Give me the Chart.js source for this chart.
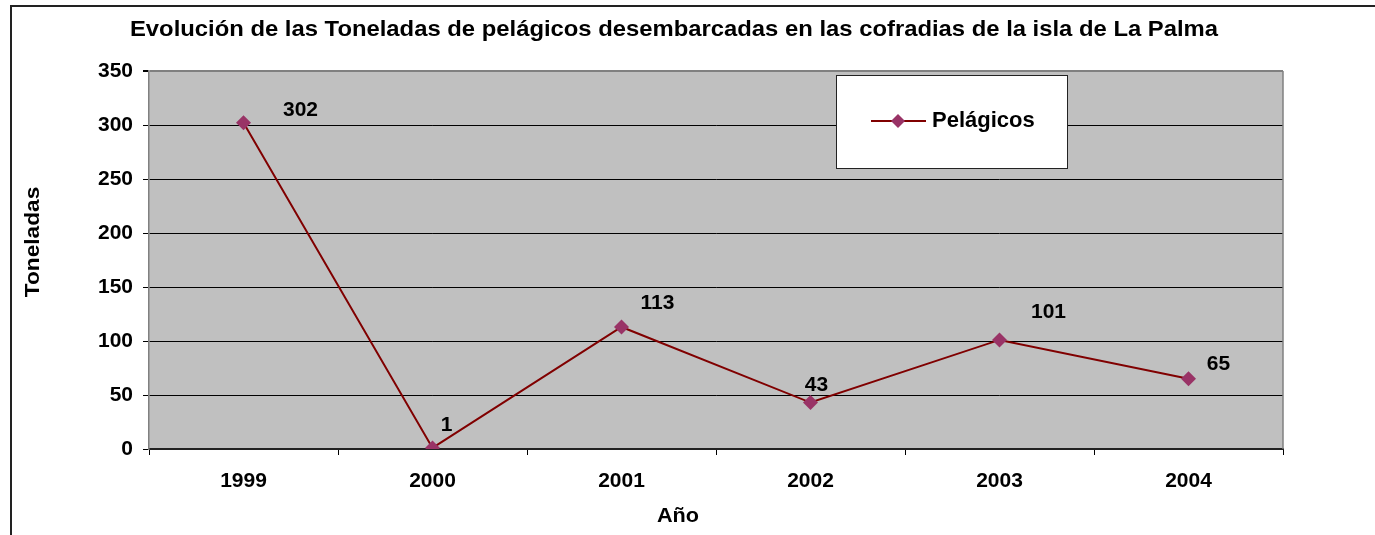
<!DOCTYPE html>
<html lang="es">
<head>
  <title>Pelágicos La Palma</title>
  <meta charset="utf-8">
  <script src="https://cdn.jsdelivr.net/npm/chart.js@4.4.1/dist/chart.umd.min.js"></script>
  <style>
    html, body {margin: 0; padding: 0; background: #fff;}
    #wrap {width: 1375px; height: 535px; position: relative;}
  </style>
</head>
<body>
<div id="wrap">
  <canvas id="chart" width="1375" height="535"></canvas>
</div>

<script>
  // datos
  const years = ["1999", "2000", "2001", "2002", "2003", "2004"]
  const toneladas = [302, 1, 113, 43, 101, 65]
  const yTicks = [0, 50, 100, 150, 200, 250, 300, 350]

  const chartTitle = "Evolución de las Toneladas de pelágicos desembarcadas en las cofradias de la isla de La Palma"
  const seriesName = "Pelágicos"

  const FONT = "'Liberation Sans', Arial, sans-serif"

  // posicion manual de las etiquetas (como en la hoja original)
  const labelOffsets = [[57, -13], [14, -23], [36, -24], [6, -17], [49, -28], [30, -15]]

  function boldText(ctx, txt, x, y, size, align, sx) {
    ctx.save()
    ctx.font = "bold " + size + "px " + FONT
    ctx.fillStyle = "#000"
    ctx.textAlign = align
    ctx.textBaseline = "middle"
    ctx.translate(x, y)
    ctx.scale(sx || 1, 1)
    ctx.fillText(txt, 0, 0)
    ctx.restore()
  }

  const decorPlugin = {
    id: "decor",
    beforeDraw(chart) {
      const ctx = chart.ctx
      const a = chart.chartArea
      ctx.save()
      ctx.fillStyle = "#fff"
      ctx.fillRect(0, 0, chart.width, chart.height)
      // marco exterior
      ctx.strokeStyle = "#222"
      ctx.lineWidth = 2
      ctx.beginPath()
      ctx.moveTo(11, chart.height)
      ctx.lineTo(11, 6)
      ctx.lineTo(chart.width, 6)
      ctx.stroke()
      // fondo del area de trazado
      ctx.fillStyle = "#c0c0c0"
      ctx.fillRect(a.left, a.top, a.right - a.left, a.bottom - a.top)
      ctx.restore()
    },
    afterDraw(chart) {
      const ctx = chart.ctx
      const a = chart.chartArea
      // borde derecho gris
      ctx.save()
      ctx.strokeStyle = "#808080"
      ctx.lineWidth = 1.5
      ctx.beginPath()
      ctx.moveTo(a.right, a.top)
      ctx.lineTo(a.right, a.bottom)
      ctx.stroke()
      ctx.restore()

      boldText(ctx, chartTitle, 674, 30, 22, "center", 1.083)
      boldText(ctx, "Año", 678, 516, 21, "center", 1.03)
      ctx.save()
      ctx.translate(33, 242)
      ctx.rotate(-Math.PI / 2)
      boldText(ctx, "Toneladas", 0, 0, 21, "center", 1.08)
      ctx.restore()

      // etiquetas de datos
      const meta = chart.getDatasetMeta(0)
      meta.data.forEach((pt, i) => {
        const off = labelOffsets[i]
        boldText(ctx, String(toneladas[i]), pt.x + off[0], pt.y + off[1], 21, "center", 1)
      })

      // leyenda
      const ds = chart.data.datasets[0]
      ctx.save()
      ctx.fillStyle = "#fff"
      ctx.fillRect(836, 75, 231, 93)
      ctx.strokeStyle = "#222"
      ctx.lineWidth = 1
      ctx.strokeRect(836.5, 75.5, 231, 93)
      ctx.strokeStyle = ds.borderColor
      ctx.lineWidth = 2
      ctx.beginPath()
      ctx.moveTo(871, 121)
      ctx.lineTo(926, 121)
      ctx.stroke()
      ctx.fillStyle = ds.pointBackgroundColor
      ctx.beginPath()
      ctx.moveTo(898, 114)
      ctx.lineTo(905, 121)
      ctx.lineTo(898, 128)
      ctx.lineTo(891, 121)
      ctx.closePath()
      ctx.fill()
      ctx.restore()
      boldText(ctx, ds.label, 932, 121, 22, "left", 1)
    }
  }

  new Chart(document.getElementById("chart"), {
    type: "line",
    data: {
      labels: years,
      datasets: [{
        label: seriesName,
        data: toneladas,
        borderColor: "#800000",
        borderWidth: 2,
        pointStyle: "rectRot",
        pointRadius: 7.5,
        pointBackgroundColor: "#993366",
        pointBorderColor: "#993366",
        pointBorderWidth: 0,
        tension: 0
      }]
    },
    options: {
      responsive: false,
      animation: false,
      layout: {padding: {left: 0, right: 92, top: 71, bottom: 0}},
      plugins: {
        legend: {display: false},
        title: {display: false},
        tooltip: {enabled: false}
      },
      scales: {
        x: {
          offset: true,
          afterFit: s => { s.height = 86 },
          grid: {
            offset: true,
            drawOnChartArea: false,
            tickLength: 6,
            tickColor: "#000",
            tickWidth: 1
          },
          border: {color: "#222", width: 2},
          ticks: {
            color: "#000",
            padding: 14,
            font: {family: FONT, size: 21, weight: "bold"}
          }
        },
        y: {
          min: 0,
          max: 350,
          afterFit: s => { s.width = 149 },
          afterBuildTicks: s => { s.ticks = yTicks.map(v => ({value: v})) },
          grid: {
            color: c => (c.tick && c.tick.value === 350) ? "#808080" : "#000",
            lineWidth: c => (c.tick && c.tick.value === 350) ? 2 : 1,
            tickLength: 6,
            tickColor: "#000"
          },
          border: {color: "#808080", width: 1.5},
          ticks: {
            color: "#000",
            padding: 10,
            font: {family: FONT, size: 21, weight: "bold"}
          }
        }
      }
    },
    plugins: [decorPlugin]
  })
</script>
</body>
</html>
